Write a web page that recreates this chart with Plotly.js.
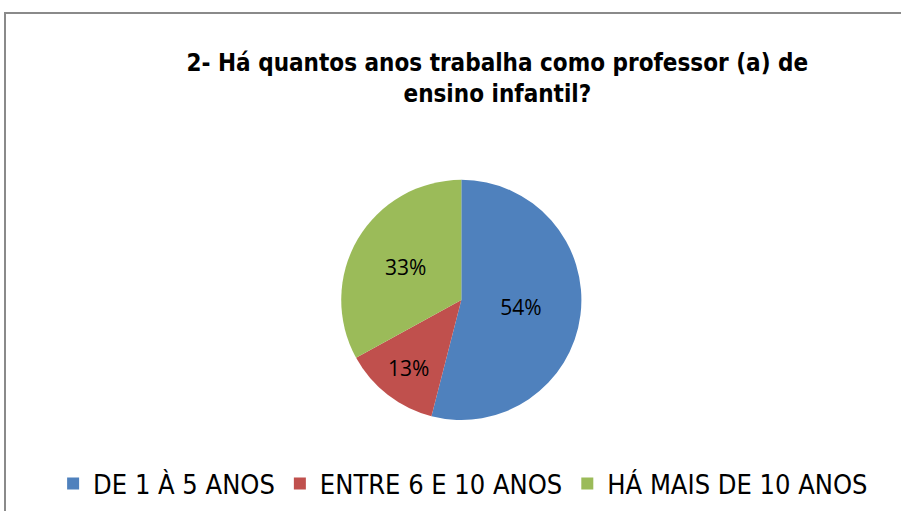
<!DOCTYPE html>
<html><head><meta charset="utf-8">
<script src="https://cdn.plot.ly/plotly-3.0.1.min.js"></script>
<style>html,body{margin:0;padding:0;background:#fff;}
#wrap{position:relative;width:901px;height:511px;}
#frame{position:absolute;left:4px;top:12px;right:-2px;bottom:-2px;border-left:2px solid #8a8a8a;border-top:2px solid #8a8a8a;pointer-events:none;}
#chart{position:absolute;left:0;top:0;width:901px;height:511px;}
</style></head>
<body><div id="wrap"><div id="chart"></div><div id="frame"></div></div>
<script>
const categories = ["DE 1 À 5 ANOS", "ENTRE 6 E 10 ANOS", "HÁ MAIS DE 10 ANOS"];
const values = [54, 13, 33];
const colors = ["#4f81bd", "#c0504d", "#9bbb59"];
const titleText = "2- Há quantos anos trabalha como professor (a) de<br>ensino infantil?";

const trace = {
  type: "pie",
  labels: categories,
  values: values,
  sort: false,
  direction: "clockwise",
  rotation: 0,
  marker: {colors: colors, line: {color: "#ffffff", width: 0}},
  texttemplate: "%{value}%",
  textposition: "inside",
  insidetextorientation: "horizontal",
  textfont: {family: "Open Sans, Liberation Sans, sans-serif", size: 21, color: "#000"},
  hoverinfo: "none",
  domain: {x: [0.378, 0.646], y: [0.178, 0.648]}
};
const layout = {
  width: 901, height: 511,
  margin: {l: 0, r: 0, t: 0, b: 0},
  paper_bgcolor: "#fff",
  showlegend: true,
  title: {text: titleText, x: 0.552, xanchor: "center", y: 0.862, yanchor: "middle",
    font: {family: "DejaVu Sans Condensed, DejaVu Sans, sans-serif", size: 24, color: "#000", weight: "bold"}},
  legend: {orientation: "h", x: 0.514, xanchor: "center", y: 0.053, yanchor: "middle",
    font: {family: "DejaVu Sans Condensed, DejaVu Sans, sans-serif", size: 27, color: "#000"},
    itemwidth: 30, traceorder: "normal", tracegroupgap: 0}
};
Plotly.newPlot("chart", [trace], layout, {displayModeBar: false, staticPlot: true});
</script></body></html>
